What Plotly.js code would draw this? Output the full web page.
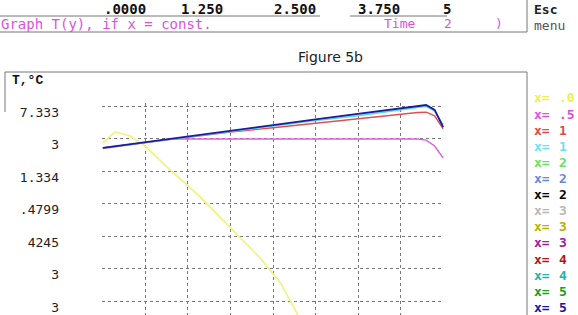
<!DOCTYPE html>
<html>
<head>
<meta charset="utf-8">
<script src="https://cdn.plot.ly/plotly-3.0.1.min.js"></script>
<style>
  html, body { margin: 0; padding: 0; background: #fff; }
  #chart { width: 578px; height: 315px; }
</style>
</head>
<body>
<div id="chart"></div>
<script>
// Graph T(y) at fixed x — screen grab of the old DOS tool, redrawn.

// y grid positions (0..6) and what the screen printed next to them
const yTickVals = [6, 5, 4, 3, 2, 1, 0];
const yTickText = ["7.333", "3", "1.334", ".4799", "4245", "3", "3"];

// the slider numbers along the top bar
const topTicks = [".0000", "1.250", "2.500", "3.750", "5"];

// legend rows (only the part that fits on screen)
const legendVals = [".0", ".5", "1", "1", "2", "2", "2",
                    "3", "3", "3", "4", "4", "5", "5"];
const legendColors = ["#eded55", "#e050e0", "#e04848", "#66e3f0", "#66e066", "#6688e0", "#000000",
                      "#b8b8b8", "#b5b500", "#a020a0", "#b01818", "#22b0b0", "#18a018", "#1818a0"];

// curves
const xMain = [0, 1, 2, 3, 4, 5, 6, 7, 7.4, 7.6, 7.8, 8];
const tNavy = [4.71, 4.88, 5.06, 5.23, 5.41, 5.59, 5.76, 5.94, 6.01, 6.03, 5.88, 5.35];
const tCyan = [4.71, 4.88, 5.06, 5.23, 5.40, 5.55, 5.70, 5.87, 5.96, 5.99, 5.85, 5.42];
const tRed  = [4.71, 4.88, 5.05, 5.20, 5.33, 5.47, 5.61, 5.76, 5.80, 5.81, 5.70, 5.30];
const xMag = [0, 1, 1.6, 2, 3, 4, 5, 6, 7, 7.4, 7.6, 7.8, 8];
const tMag = [4.69, 4.86, 4.985, 4.985, 4.985, 4.985, 4.985, 4.985, 4.985, 4.985, 4.95, 4.77, 4.40];
const xYel = [0, 0.28, 0.64, 0.99, 1.51, 2.29, 3.0, 3.7, 4.18, 4.6, 4.9];
const tYel = [4.86, 5.2, 5.08, 4.77, 4.12, 3.2, 2.25, 1.32, 0.55, -0.43, -1.2];

const W = 578, H = 315, ML = 102, MR = 134, MT = 103, MB = 0;
const PW = W - ML - MR, PH = H - MT - MB;
const px = (x) => (x - ML) / PW;
const py = (y) => (H - MB - y) / PH;

const MONO = "DejaVu Sans Mono, monospace";

function line(color, width, xs, ys) {
  return { x: xs, y: ys, type: "scatter", mode: "lines", hoverinfo: "skip",
           line: { color: color, width: width } };
}

const traces = [
  line("#f2f28a", 1.8, xYel, tYel),
  line("#e060e0", 1.4, xMag, tMag),
  line("#e05050", 1.4, xMain, tRed),
  line("#55d8f0", 1.5, xMain, tCyan),
  line("#1c1c9c", 1.8, xMain, tNavy),
];

function hline(x0, x1, y, color) {
  return { type: "line", xref: "paper", yref: "paper", x0: px(x0), x1: px(x1), y0: py(y), y1: py(y),
           line: { color: color || "#777", width: 1 } };
}
function vline(x, y0, y1, color) {
  return { type: "line", xref: "paper", yref: "paper", x0: px(x), x1: px(x), y0: py(y0), y1: py(y1),
           line: { color: color || "#777", width: 1 } };
}

const shapes = [
  hline(0, 320, 16), hline(350, 447, 16),
  hline(0, 527, 32),
  vline(527, 0, 32),
  hline(5, 527, 72),
  vline(5, 72, 112),
  vline(527, 72, 315),
];

function label(text, x, y, opts) {
  return Object.assign({
    text: text, xref: "paper", yref: "paper", x: px(x), y: py(y),
    xanchor: "left", yanchor: "middle", showarrow: false, borderpad: 0,
    font: { family: MONO, size: 14, color: "#111" },
  }, opts || {});
}

const topLeft = [103, 180, 273, 357, 442];
const annotations = [];
topTicks.forEach((t, i) => {
  annotations.push(label(t, topLeft[i], 9, { font: { family: MONO, size: 14, color: "#111", weight: "bold" } }));
});
annotations.push(label("Graph T(y), if x = const.", 0, 24, { font: { family: MONO, size: 14, color: "#e050e0" } }));
annotations.push(label("Time", 383, 24, { font: { family: MONO, size: 13, color: "#e050e0" } }));
annotations.push(label("2", 443, 24, { font: { family: MONO, size: 13, color: "#e050e0" } }));
annotations.push(label(")", 494, 24, { font: { family: MONO, size: 13, color: "#e050e0" } }));
annotations.push(label("Esc", 533, 9, { font: { family: MONO, size: 13, color: "#222", weight: "bold" } }));
annotations.push(label("menu", 533, 25, { font: { family: MONO, size: 13, color: "#555" } }));
annotations.push(label("Figure 5b", 330, 57, { xanchor: "center",
  font: { family: "DejaVu Sans, sans-serif", size: 14, color: "#222" } }));
annotations.push(label("T,°C", 11, 81, { font: { family: "Liberation Mono, monospace", size: 13, color: "#111", weight: "bold" } }));

legendVals.forEach((v, i) => {
  const y = 98 + i * 16.1;
  const f = { family: MONO, size: 13, color: legendColors[i], weight: "bold" };
  annotations.push(label("x=", 533, y, { font: f }));
  annotations.push(label(v, 558, y, { font: f }));
});

const layout = {
  width: W, height: H,
  margin: { l: ML, r: MR, t: MT, b: MB, pad: 0 },
  paper_bgcolor: "#fff", plot_bgcolor: "#fff",
  showlegend: false,
  xaxis: {
    range: [-0.02, 8.02], dtick: 1, tick0: 0,
    showgrid: true, gridcolor: "#777", griddash: "dot", gridwidth: 1,
    zeroline: false, showline: false, showticklabels: false, ticks: "",
  },
  yaxis: {
    range: [(301 - 315) / 32.5, (301 - 103) / 32.5],
    tickvals: yTickVals, ticktext: yTickText,
    showgrid: true, gridcolor: "#777", griddash: "dot", gridwidth: 1,
    zeroline: false, showline: false, ticks: "",
    ticklabelstandoff: 42, ticklabelshift: 6, ticklabeloverflow: "allow",
    tickfont: { family: MONO, size: 13, color: "#222" },
  },
  shapes: shapes,
  annotations: annotations,
};

Plotly.newPlot("chart", traces, layout, { displayModeBar: false, staticPlot: true });
</script>
</body>
</html>
